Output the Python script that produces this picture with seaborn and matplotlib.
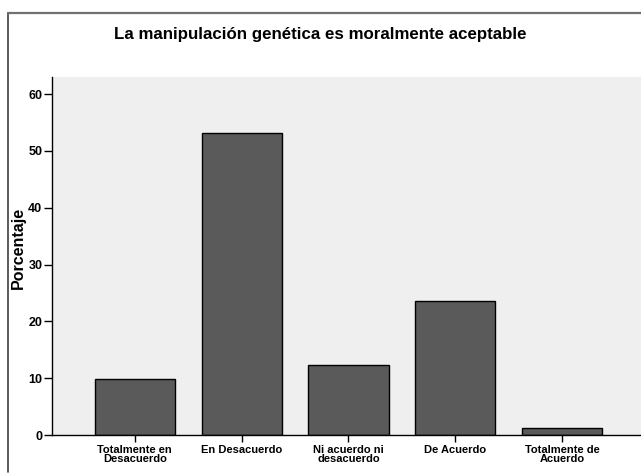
import matplotlib
matplotlib.use("Agg")
import matplotlib.pyplot as plt
from matplotlib.lines import Line2D
import seaborn as sns
import pandas as pd

# Survey responses: share of respondents per answer
categories = [
    "Totalmente en\nDesacuerdo",
    "En Desacuerdo",
    "Ni acuerdo ni\ndesacuerdo",
    "De Acuerdo",
    "Totalmente de\nAcuerdo",
]
percentages = [9.8, 53.2, 12.3, 23.6, 1.2]
y_ticks = [0, 10, 20, 30, 40, 50, 60]

title = "La manipulación genética es moralmente aceptable"
y_label = "Porcentaje"

df = pd.DataFrame({"respuesta": categories, "porcentaje": percentages})

sns.set_theme(style="white")
plt.rcParams["font.family"] = ["Liberation Sans", "DejaVu Sans"]
plt.rcParams["font.weight"] = "bold"
plt.rcParams["text.color"] = "black"
plt.rcParams["axes.labelcolor"] = "black"
plt.rcParams["xtick.color"] = "black"
plt.rcParams["ytick.color"] = "black"

W, H = 641, 475
fig = plt.figure(figsize=(W / 100, H / 100), dpi=100)
fig.patch.set_facecolor("white")

# outer chart frame (left and top edges)
fig.lines.append(Line2D([7.5 / W, 7.5 / W], [1 - 472 / H, 1 - 12.5 / H],
                        transform=fig.transFigure, color="#404040", linewidth=1.2))
fig.lines.append(Line2D([7.5 / W, 1.0], [1 - 12.5 / H, 1 - 12.5 / H],
                        transform=fig.transFigure, color="#707070", linewidth=1.6))

ax = fig.add_axes([52 / W, 1 - 435 / H, 593 / W, 358 / H])
ax.set_facecolor("#efefef")

sns.barplot(data=df, x="respuesta", y="porcentaje", ax=ax,
            color="#5a5a5a", saturation=1, width=0.75,
            edgecolor="black", linewidth=1.0)

ax.set_xlim(-0.775, 4.775)
ax.set_ylim(0, 63)
ax.set_yticks(y_ticks)
ax.set_yticklabels([str(t) for t in y_ticks], fontsize=9, fontweight="bold",
                   color="black")
ax.set_xticks(range(len(categories)))
ax.set_xticklabels(categories, fontsize=8, fontweight="bold", linespacing=0.92,
                   color="black")
ax.tick_params(axis="y", direction="out", length=6, width=1, color="black",
               pad=1, left=True)
ax.tick_params(axis="x", direction="out", length=5, width=1, color="black",
               pad=2, bottom=True)
ax.set_xlabel("")
ax.set_ylabel(y_label, fontsize=11.5, fontweight="bold", va="center",
              color="black")
ax.yaxis.set_label_coords((18.5 - 52) / 593, (435 - 248) / 358)

for s in ("top", "right"):
    ax.spines[s].set_visible(False)
for s in ("left", "bottom"):
    ax.spines[s].set_visible(True)
    ax.spines[s].set_color("black")
    ax.spines[s].set_linewidth(1)

fig.text(320 / W, 1 - 35 / H, title, ha="center", va="center",
         fontsize=12.2, fontweight="bold", color="black")

fig.savefig("out.png", dpi=100)
